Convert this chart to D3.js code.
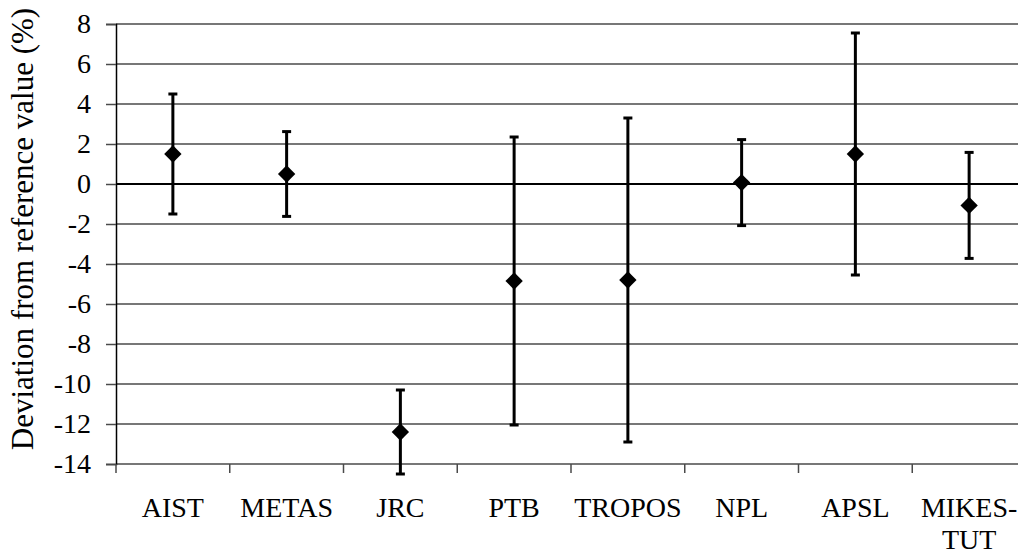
<!DOCTYPE html>
<html>
<head>
<meta charset="utf-8">
<script src="https://cdn.jsdelivr.net/npm/d3@7"></script>
</head>
<body style="margin:0">
<svg width="1018" height="556" style="display:block"></svg>
<script>
// labs and their deviation (%) with expanded uncertainty
const labs = ["AIST", "METAS", "JRC", "PTB", "TROPOS", "NPL", "APSL", "MIKES-TUT"];
const deviation = [1.5, 0.5, -12.4, -4.85, -4.8, 0.07, 1.5, -1.07];
const uncertainty = [3.0, 2.12, 2.1, 7.2, 8.1, 2.15, 6.05, 2.65];
const yTicks = [8, 6, 4, 2, 0, -2, -4, -6, -8, -10, -12, -14];

const svg = d3.select("svg");
const plotLeft = 116, plotRight = 1026, plotTop = 24, plotBottom = 464;

const x = d3.scaleBand().domain(labs).range([plotLeft, plotRight]);
const y = d3.scaleLinear().domain([-14, 8]).range([plotBottom, plotTop]);

// gridlines
svg.append("g")
  .selectAll("line")
  .data(yTicks)
  .enter()
  .append("line")
  .attr("x1", plotLeft)
  .attr("x2", plotRight)
  .attr("y1", (d) => y(d))
  .attr("y2", (d) => y(d))
  .attr("stroke", (d) => (d === 0 ? "#000" : "#4a4a4a"))
  .attr("stroke-width", (d) => (d === 0 ? 2 : 1.5));

// y axis, labels drawn separately
const yAxis = svg.append("g")
  .attr("transform", `translate(${plotLeft},0)`)
  .call(d3.axisLeft(y).tickValues(yTicks).tickSize(10).tickFormat(""));
yAxis.select(".domain").attr("stroke", "#000").attr("stroke-width", 1.5);
yAxis.selectAll(".tick line").attr("stroke", "#4a4a4a").attr("stroke-width", 1.5);

svg.selectAll("text.ylab")
  .data(yTicks)
  .enter()
  .append("text")
  .attr("class", "ylab")
  .attr("x", 91)
  .attr("y", (d) => y(d) + 9)
  .attr("text-anchor", "end")
  .attr("font-size", 28)
  .style("font-family", '"Liberation Serif"')
  .text((d) => String(d));

// x axis ticks at category boundaries
const bounds = labs.map((d) => x(d)).concat([plotRight]);
svg.append("g")
  .selectAll("line")
  .data(bounds)
  .enter()
  .append("line")
  .attr("x1", (d) => d)
  .attr("x2", (d) => d)
  .attr("y1", plotBottom)
  .attr("y2", plotBottom + 9)
  .attr("stroke", "#4a4a4a")
  .attr("stroke-width", 1.5);

// category labels
const lines = labs.flatMap((d) =>
  (d === "MIKES-TUT" ? ["MIKES-", "TUT"] : [d]).map((t, i) => ({ lab: d, t, i }))
);
svg.selectAll("text.xlab")
  .data(lines)
  .enter()
  .append("text")
  .attr("class", "xlab")
  .attr("x", (d) => x(d.lab) + x.bandwidth() / 2)
  .attr("y", (d) => 517 + d.i * 32)
  .attr("text-anchor", "middle")
  .attr("font-size", 28)
  .style("font-family", '"Liberation Serif"')
  .text((d) => d.t);

// error bars
const pts = labs.map((d, i) => ({ lab: d, v: deviation[i], u: uncertainty[i] }));
const cx = (d) => x(d.lab) + x.bandwidth() / 2;
const bars = svg.append("g").selectAll("g").data(pts).enter().append("g");
bars.append("line")
  .attr("x1", cx).attr("x2", cx)
  .attr("y1", (d) => y(d.v + d.u))
  .attr("y2", (d) => y(d.v - d.u))
  .attr("stroke", "#000").attr("stroke-width", 3);
[1, -1].forEach((s) => {
  bars.append("line")
    .attr("x1", (d) => cx(d) - 4.5).attr("x2", (d) => cx(d) + 4.5)
    .attr("y1", (d) => y(d.v + s * d.u))
    .attr("y2", (d) => y(d.v + s * d.u))
    .attr("stroke", "#000").attr("stroke-width", 3);
});

// diamond markers
svg.append("g")
  .selectAll("path")
  .data(pts)
  .enter()
  .append("path")
  .attr("d", d3.symbol().type(d3.symbolSquare).size(150))
  .attr("transform", (d) => `translate(${cx(d)},${y(d.v)}) rotate(45)`)
  .attr("fill", "#000");

// y title
svg.append("text")
  .attr("transform", `translate(33,229) rotate(-90)`)
  .attr("text-anchor", "middle")
  .attr("font-size", 31)
  .style("font-family", '"Liberation Serif"')
  .text("Deviation from reference value (%)");
</script>
</body>
</html>
